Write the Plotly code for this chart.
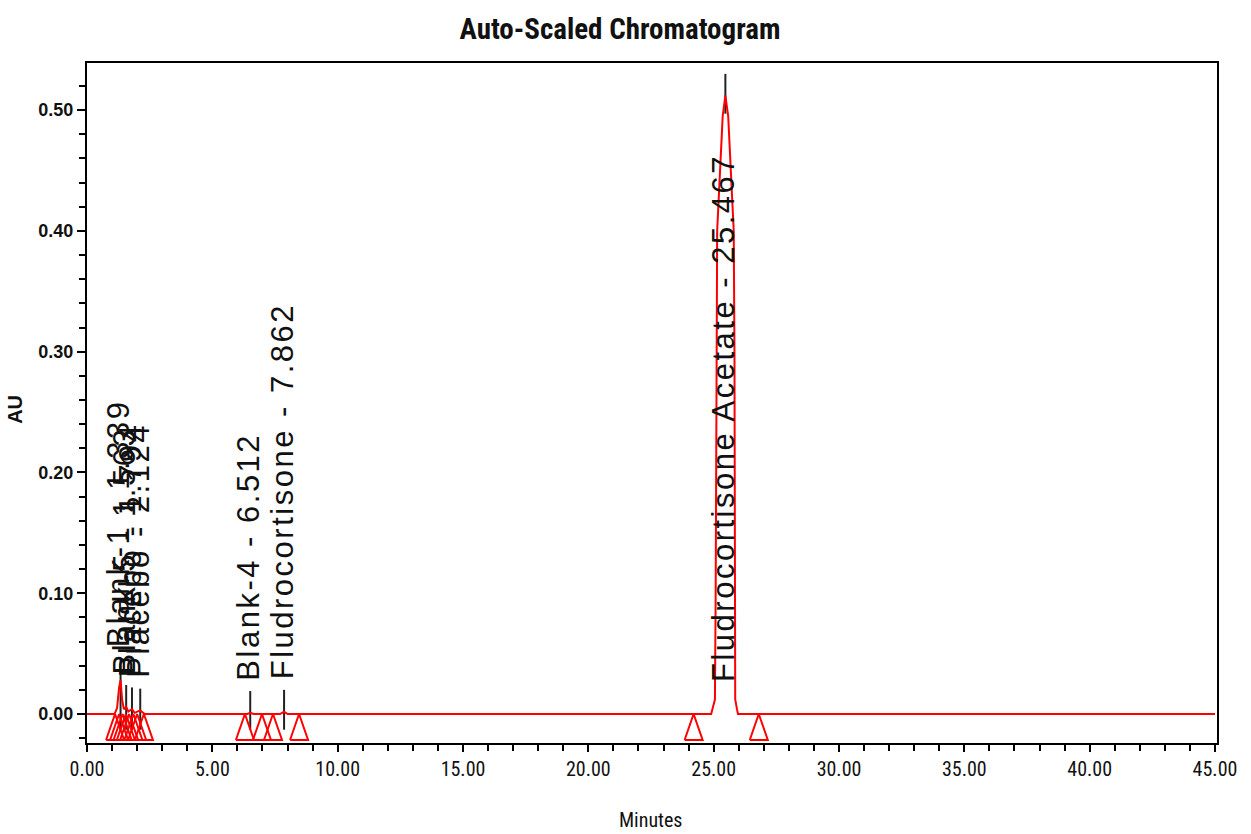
import plotly.graph_objects as go

# ---- data ----
signal_time = [0.0, 1.10, 1.20, 1.28, 1.339, 1.40, 1.47, 1.563, 1.65, 1.794, 1.90, 2.124, 2.30,
               6.40, 6.512, 6.65, 7.70, 7.862, 8.00,
               24.90, 24.95, 25.05, 25.08, 25.11, 25.14, 25.36, 25.467, 25.58, 25.80, 25.83,
               25.86, 25.93, 25.97,
               45.0]
signal_au = [0.0, 0.0, 0.005, 0.022, 0.028, 0.012, 0.004, 0.006, 0.002, 0.004, 0.001, 0.003, 0.0,
             0.0, 0.001, 0.0, 0.0, 0.002, 0.0,
             0.0, 0.004, 0.012, 0.10, 0.30, 0.40, 0.495, 0.512, 0.495, 0.40, 0.30,
             0.012, 0.004, 0.0,
             0.0]

peak_names = ["Blank-1", "Blank-5", "Placebo", "Placebo", "Blank-4", "Fludrocortisone",
              "Fludrocortisone Acetate"]
peak_rt = [1.339, 1.563, 1.794, 2.124, 6.512, 7.862, 25.467]
peak_height = [0.028, 0.006, 0.004, 0.003, 0.001, 0.002, 0.512]

integration_marks = [1.12, 1.28, 1.42, 1.55, 1.68, 1.85, 2.00, 2.27,
                     6.30, 6.98, 7.42, 8.46, 24.20, 26.80]

x_ticks = [0, 5, 10, 15, 20, 25, 30, 35, 40, 45]
y_ticks = [0.0, 0.1, 0.2, 0.3, 0.4, 0.5]

# ---- styling constants ----
RED = "#FF0000"
TRI_HALF_W = 0.36      # minutes
TRI_DEPTH = -0.0215    # AU
LINE_UP = 0.018
LINE_DOWN = -0.013
LABEL_GAP = 0.026
TALL = 0.05

fig = go.Figure()

# peak marker lines (black)
lx, ly = [], []
for rt, h in zip(peak_rt, peak_height):
    bottom = LINE_DOWN if h < TALL else h - 0.015
    lx += [rt, rt, None]
    ly += [bottom, h + LINE_UP, None]
fig.add_trace(go.Scatter(x=lx, y=ly, mode="lines", line=dict(color="#222222", width=2),
                         hoverinfo="skip", showlegend=False))

# chromatogram signal
fig.add_trace(go.Scatter(x=signal_time, y=signal_au, mode="lines",
                         line=dict(color=RED, width=2), showlegend=False))

# integration start/end triangles
tx, ty = [], []
for t in integration_marks:
    tx += [t - TRI_HALF_W, t, t + TRI_HALF_W, t - TRI_HALF_W, None]
    ty += [TRI_DEPTH, 0.0, TRI_DEPTH, TRI_DEPTH, None]
fig.add_trace(go.Scatter(x=tx, y=ty, mode="lines", line=dict(color=RED, width=2),
                         hoverinfo="skip", showlegend=False))

# peak labels
for name, rt, h in zip(peak_names, peak_rt, peak_height):
    ylab = h + LABEL_GAP if h < TALL else 0.026
    fig.add_annotation(
        x=rt, y=ylab, xref="x", yref="y",
        text='<span style="letter-spacing:2.5px">%s - %.3f</span>' % (name, rt),
        textangle=-90, showarrow=False, xanchor="center", yanchor="bottom",
        xshift=-2, borderpad=0,
        font=dict(family="Liberation Sans, Arial, sans-serif", size=31, color="#111111"),
    )

narrow = "Liberation Sans Narrow, Arial Narrow, Roboto Condensed, Liberation Sans, Arial, sans-serif"

# axis titles
fig.add_annotation(x=0.4985, y=-0.113, xref="paper", yref="paper", text="Minutes",
                   showarrow=False, xanchor="center", yanchor="middle",
                   font=dict(family=narrow, size=20, color="#111111"))
fig.add_annotation(x=-0.0637, y=0.49, xref="paper", yref="paper", text="AU",
                   showarrow=False, textangle=-90, xanchor="center", yanchor="middle",
                   font=dict(family="Liberation Sans, Arial, sans-serif", size=20, color="#111111",
                             weight="bold"))

fig.update_layout(
    width=1251, height=834,
    margin=dict(l=87, r=34, t=63, b=91),
    paper_bgcolor="white", plot_bgcolor="white",
    title=dict(text="Auto-Scaled Chromatogram", x=0.4956, y=0.966, xanchor="center",
               yanchor="middle",
               font=dict(family=narrow, size=29, color="#111111", weight="bold")),
    showlegend=False,
)

fig.update_xaxes(
    range=[0, 45.08], tickvals=x_ticks, ticktext=["%.2f" % v for v in x_ticks],
    showgrid=False, zeroline=False,
    showline=True, linecolor="black", linewidth=2, mirror=True,
    ticks="outside", ticklen=7, tickwidth=2, tickcolor="black",
    minor=dict(dtick=1, tick0=0, ticks="outside", ticklen=6, tickwidth=1.5, tickcolor="black",
               showgrid=False),
    tickfont=dict(family=narrow, size=20, color="#111111"),
)
fig.update_yaxes(
    range=[-0.024, 0.539], tickvals=y_ticks, ticktext=["%.2f" % v for v in y_ticks],
    showgrid=False, zeroline=False,
    showline=True, linecolor="black", linewidth=2, mirror=True,
    ticks="outside", ticklen=8, tickwidth=2, tickcolor="black",
    minor=dict(dtick=0.02, tick0=0, ticks="outside", ticklen=6, tickwidth=1.5, tickcolor="black",
               showgrid=False),
    tickfont=dict(family="Liberation Sans, Arial, sans-serif", size=18, color="#111111",
                  weight="bold"),
)

fig.write_html("out.html")
